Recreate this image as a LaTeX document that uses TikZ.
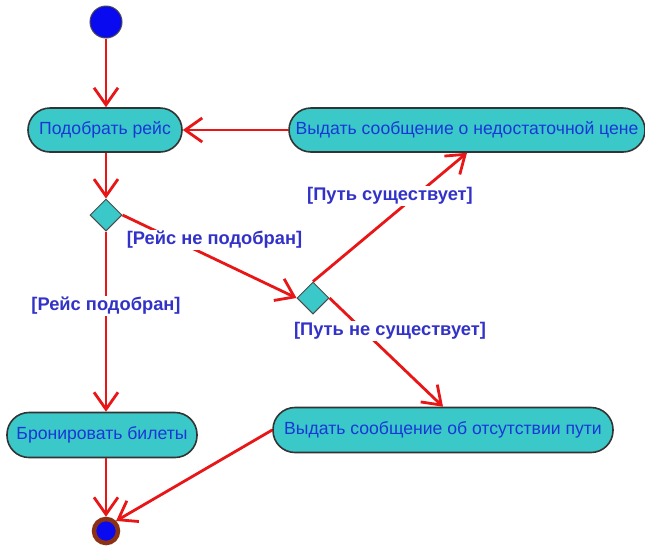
\documentclass[tikz,border=0pt]{standalone}
\usepackage{fontspec}
\setmainfont{Liberation Sans}
\usetikzlibrary{arrows.meta,shapes.geometric}
\definecolor{arrred}{RGB}{232,22,22}
\definecolor{actfill}{RGB}{58,200,200}
\definecolor{acttext}{RGB}{25,55,215}
\definecolor{lbltext}{RGB}{50,50,200}
\definecolor{ringbrown}{RGB}{140,50,20}
\definecolor{startblue}{RGB}{10,10,240}
\tikzset{
  act/.style={draw=black!80, line width=1.6pt, fill=actfill, rounded corners=22pt,
    minimum height=44pt, inner sep=0pt, text=acttext, font=\fontsize{17.6}{20}\selectfont},
  dec/.style={diamond, draw=black!70, line width=1pt, fill=actfill, minimum width=32pt,
    minimum height=32pt, inner sep=0pt},
  flow/.style={draw=arrred, line width=2.8pt, -{Straight Barb[length=17pt,width=24pt]}},
  guard/.style={fill=white, inner sep=1.5pt, text=lbltext, font=\bfseries\fontsize{18.3}{21}\selectfont},
}
\begin{document}
\begin{tikzpicture}[x=1pt,y=-1pt]
\useasboundingbox (0,0) rectangle (645,550);
\fill[white] (0,0) rectangle (645,550);
% nodes
\node[circle, draw=black!70, line width=1pt, fill=startblue, minimum size=32pt, inner sep=0pt] (start) at (106,22) {};
\node[act, minimum width=154pt] (podobrat) at (105,130) {Подобрать рейс};
\node[act, minimum width=356pt] (nedost) at (467,130) {Выдать сообщение о недостаточной цене};
\node[dec] (d1) at (106,215) {};
\node[dec] (d2) at (313,298) {};
\node[act, minimum width=190pt, minimum height=45pt] (bron) at (102,435) {Бронировать билеты};
\node[act, minimum width=340pt, minimum height=45pt] (otsut) at (443,430) {Выдать сообщение об отсутствии пути};
\node[circle, draw=ringbrown, line width=4.5pt, fill=startblue, minimum size=24pt, inner sep=0pt] (end) at (106,531) {};
% connectors
\draw[flow] (start) -- (start |- podobrat.north);
\draw[flow] (nedost.west) -- (podobrat.east);
\draw[flow] (d1 |- podobrat.south) -- (d1.north);
\draw[flow] (d1.east) -- (d2.west);
\draw[flow] (d1.south) -- (d1.south |- bron.north);
\draw[flow] (d2.north) -- (nedost.south);
\draw[flow] (d2.east) -- (otsut.north);
\draw[flow] (end |- bron.south) -- (end.north);
\draw[flow] (otsut.west) -- (end.north east);
% guards
\node[guard] (g1) at (214.5,240) {[Рейс не подобран]};
\node[guard] (g2) at (106,306) {[Рейс подобран]};
\node[guard] (g3) at (390,196) {[Путь существует]};
\node[guard] (g4) at (390,331) {[Путь не существует]};
\end{tikzpicture}
\end{document}
